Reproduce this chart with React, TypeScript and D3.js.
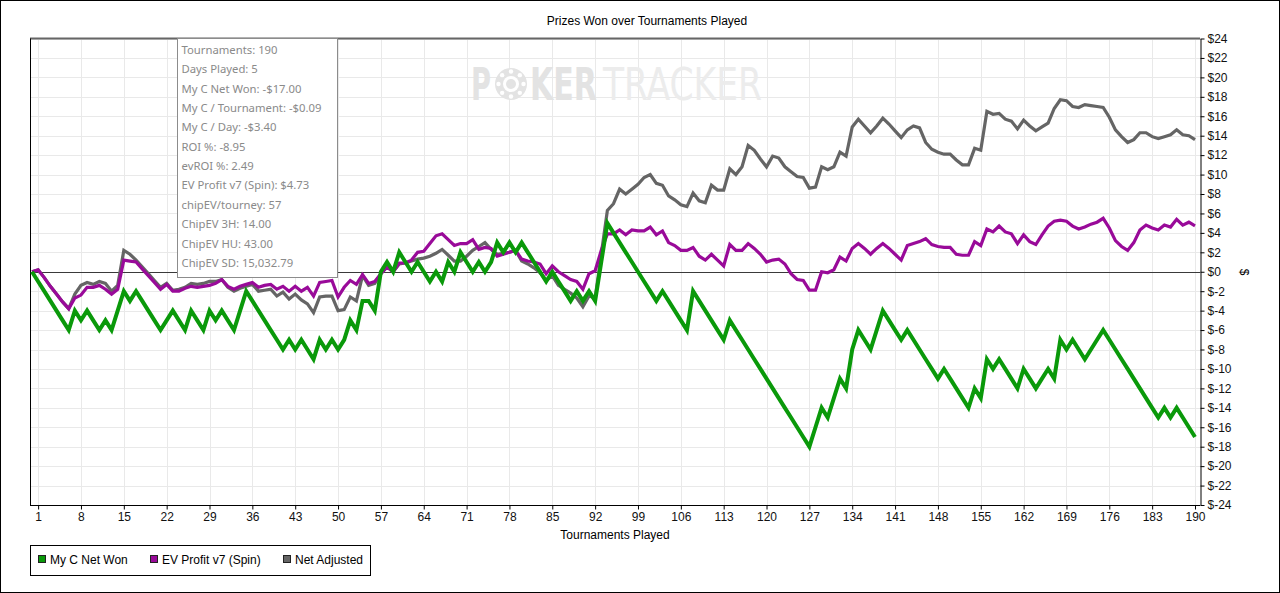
import { useEffect, useRef } from 'react';
import * as d3 from 'd3';

// cumulative $ per tournament (index = tournaments played, 0..190)
const netWon = [
  0, -1, -2, -3, -4, -5, -6, -4, -5, -4,
  -5, -6, -5, -6, -4, -2, -3, -2, -3, -4,
  -5, -6, -5, -4, -5, -6, -4, -5, -6, -4,
  -5, -4, -5, -6, -4, -2, -3, -4, -5, -6,
  -7, -8, -7, -8, -7, -8, -9, -7, -8, -7,
  -8, -7, -5, -6, -3, -3, -4, 0, 1, 0,
  2, 1, 0, 1, 0, -1, 0, -1, 1, 0,
  2, 1, 0, 1, 0, 1, 3, 2, 3, 2,
  3, 2, 1, 0, -1, 0, -1, -2, -3, -2,
  -3, -2, -3, 1, 5, 4, 3, 2, 1, 0,
  -1, -2, -3, -2, -3, -4, -5, -6, -2, -3,
  -4, -5, -6, -7, -5, -6, -7, -8, -9, -10,
  -11, -12, -13, -14, -15, -16, -17, -18, -16, -14,
  -15, -13, -11, -12, -8, -6, -7, -8, -6, -4,
  -5, -6, -7, -6, -7, -8, -9, -10, -11, -10,
  -11, -12, -13, -14, -12, -13, -9, -10, -9, -10,
  -11, -12, -10, -11, -12, -11, -10, -11, -7, -8,
  -7, -8, -9, -8, -7, -6, -7, -8, -9, -10,
  -11, -12, -13, -14, -15, -14, -15, -14, -15, -16,
  -17,
];

const evProfit = [
  0, 0.2, -0.6, -1.5, -2.3, -3.1, -3.8, -2.7, -2.4, -1.6,
  -1.6, -1.4, -1.8, -2.3, -1.8, 1.2, 1.1, 1.0, 0.3, -0.4,
  -1.1, -1.8, -1.3, -2.0, -2.0, -1.7, -1.5, -1.6, -1.5, -1.4,
  -1.2, -0.8, -1.5, -1.8, -1.5, -1.3, -1.1, -1.6, -1.4, -1.3,
  -1.8, -1.5, -2.0, -1.5, -2.0, -1.6, -2.5, -1.1, -1.0, -0.9,
  -2.6, -1.6, -0.9, -1.3, -0.3, -1.2, -1.0, -0.2, 0.5, 0.0,
  0.9, 0.9, 1.2, 2.0, 2.1, 2.9, 3.7, 3.9, 3.3, 2.7,
  2.9, 2.9, 3.3, 2.3, 2.5, 2.4, 1.6, 1.8, 2.0, 2.2,
  1.3, 1.1, 1.0, 0.8, -0.2, 0.6, 0.0, -0.4, -0.8, -1.0,
  -1.8, -0.2, 0.1, 2.2, 3.9, 3.9, 4.3, 3.8, 4.3, 4.2,
  4.2, 4.6, 3.8, 4.2, 3.0, 2.7, 2.2, 2.2, 2.5, 1.6,
  1.2, 1.8, 1.2, 0.6, 2.8, 2.2, 2.2, 2.9, 2.4, 1.8,
  1.0, 1.2, 1.3, 0.8, -0.2, -0.8, -0.9, -1.9, -1.9, 0.0,
  -0.1, 0.2, 1.5, 1.1, 2.4, 2.9, 2.4, 1.8, 2.4, 2.9,
  2.4, 1.8, 1.2, 2.7, 2.9, 3.1, 3.4, 2.8, 2.6, 2.5,
  2.5, 1.8, 1.7, 1.7, 3.1, 2.7, 4.4, 4.1, 4.7, 4.1,
  3.9, 2.9, 3.8, 3.1, 2.8, 3.8, 4.7, 5.2, 5.3, 5.2,
  4.7, 4.4, 4.6, 4.9, 5.1, 5.5, 4.5, 3.2, 2.6, 2.2,
  3.0, 4.3, 4.8, 4.5, 4.3, 4.8, 4.6, 5.4, 4.8, 5.1,
  4.73,
];

const netAdjusted = [
  0, 0.2, -0.6, -1.5, -2.3, -3.1, -3.8, -2.3, -1.4, -1.1,
  -1.3, -1.0, -1.2, -2.0, -1.4, 2.2, 1.8, 1.2, 0.5, -0.2,
  -0.9, -1.6, -1.2, -1.9, -1.8, -1.6, -1.2, -1.3, -1.2, -1.0,
  -1.0, -0.8, -1.6, -2.0, -1.7, -1.5, -1.3, -2.0, -1.9, -1.8,
  -2.5, -2.1, -2.8, -2.3, -2.9, -3.3, -4.2, -2.6, -2.5, -2.5,
  -4.0, -3.9, -2.6, -3.0, -0.4, -1.4, -1.2, -0.2, 0.5, 0.0,
  0.8, 0.9, 1.1, 1.3, 1.4, 1.6, 1.9, 2.3, 1.7, 1.1,
  1.1, 1.6, 2.2, 2.6, 3.0, 2.3, 1.8, 1.9, 2.0, 2.2,
  1.1, 0.8, 0.4, -0.1, -0.9, -0.4, -1.4, -1.8, -2.2, -2.7,
  -3.6, -2.5, -2.7, 1.8, 6.3, 7.0, 8.5, 8.0, 8.5, 9.0,
  9.7, 10.0, 9.1, 8.9, 7.8, 7.4, 6.9, 6.7, 8.1, 7.3,
  7.1, 8.9, 8.4, 8.4, 10.6, 10.0, 10.8, 13.0, 12.5, 11.6,
  10.8, 11.9, 11.7, 10.8, 10.3, 9.8, 9.7, 8.6, 8.7, 10.8,
  10.5, 10.8, 12.3, 11.9, 14.9, 15.7, 15.0, 14.3, 15.0, 15.8,
  15.2, 14.5, 13.8, 14.6, 15.0, 14.8, 13.3, 12.6, 12.3, 12.1,
  12.1, 11.5, 11.0, 11.0, 12.7, 12.5, 16.5, 16.2, 16.3, 15.7,
  15.5, 14.7, 15.6, 15.0, 14.5, 14.9, 15.3, 16.8, 17.7, 17.6,
  17.0, 16.9, 17.2, 17.1, 17.0, 16.9, 15.9, 14.6, 13.9, 13.3,
  13.6, 14.3, 14.3, 13.9, 13.7, 13.9, 14.1, 14.6, 14.1, 14.0,
  13.6,
];

const xTicks = [1, 8, 15, 22, 29, 36, 43, 50, 57, 64, 71, 78, 85, 92, 99, 106, 113, 120, 127, 134, 141, 148, 155, 162, 169, 176, 183, 190];
const yTicks = [-24, -22, -20, -18, -16, -14, -12, -10, -8, -6, -4, -2, 0, 2, 4, 6, 8, 10, 12, 14, 16, 18, 20, 22, 24];

const seriesNames = ['My C Net Won', 'EV Profit v7 (Spin)', 'Net Adjusted'];
const seriesColors = ['#0a990a', '#990a99', '#656565'];

const tooltipLines = [
  'Tournaments: 190',
  'Days Played: 5',
  'My C Net Won: -$17.00',
  'My C / Tournament: -$0.09',
  'My C / Day: -$3.40',
  'ROI %: -8.95',
  'evROI %: 2.49',
  'EV Profit v7 (Spin): $4.73',
  'chipEV/tourney: 57',
  'ChipEV 3H: 14.00',
  'ChipEV HU: 43.00',
  'ChipEV SD: 15,032.79',
];

const W = 1280;
const H = 593;
const FONT = '"Liberation Sans", Arial, sans-serif';

export default function App() {
  const svgRef = useRef<SVGSVGElement>(null);

  useEffect(() => {
    document.body.style.margin = '0';
    if (!svgRef.current) return;
    const svg = d3.select(svgRef.current);
    svg.selectAll('*').remove();

    const left = 30, right = 1200, top = 38.5, bottom = 505;

    const x = d3.scaleLinear().domain([0, 190]).range([32, 1195]);
    const y = d3.scaleLinear().domain([-24, 24]).range([bottom, top]);

    svg.append('rect').attr('width', W).attr('height', H).attr('fill', '#fff');
    svg.append('rect')
      .attr('x', 0.5).attr('y', 0.5).attr('width', W - 1).attr('height', H - 1)
      .attr('fill', 'none').attr('stroke', '#000');

    // title
    svg.append('text')
      .attr('x', 647).attr('y', 25)
      .attr('text-anchor', 'middle')
      .attr('font-family', FONT).attr('font-size', 12)
      .text('Prizes Won over Tournaments Played');

    // grid
    const grid = svg.append('g');
    grid.selectAll('line.v').data(xTicks).enter().append('line')
      .attr('x1', d => Math.round(x(d)) + 0.5).attr('x2', d => Math.round(x(d)) + 0.5)
      .attr('y1', top).attr('y2', bottom)
      .attr('stroke', '#e9e9e9');
    grid.selectAll('line.h').data(yTicks).enter().append('line')
      .attr('y1', d => Math.round(y(d)) + 0.5).attr('y2', d => Math.round(y(d)) + 0.5)
      .attr('x1', left).attr('x2', right)
      .attr('stroke', '#e9e9e9');

    // watermark, squeezed to fit its box
    const wm = svg.append('g').attr('font-family', '"DejaVu Sans Condensed", "Liberation Sans Narrow", sans-serif');
    const fitText = (txt: string, x0: number, width: number, weight: number, fill: string) => {
      const t = wm.append('text').attr('font-size', 44).attr('font-weight', weight).attr('fill', fill).text(txt);
      const w = (t.node() as SVGTextElement).getComputedTextLength() || width;
      t.attr('transform', `translate(${x0},100) scale(${width / w},1)`);
    };
    fitText('P', 471, 20, 700, '#e3e3e3');
    const chip = wm.append('g').attr('transform', 'translate(511,84)');
    chip.append('circle').attr('r', 16).attr('fill', '#e3e3e3');
    chip.append('circle').attr('r', 8).attr('fill', '#fff');
    chip.append('circle').attr('r', 5).attr('fill', '#e3e3e3');
    d3.range(8).forEach(i => {
      const a = (i * Math.PI) / 4;
      chip.append('circle').attr('cx', Math.cos(a) * 12.5).attr('cy', Math.sin(a) * 12.5)
        .attr('r', 2.2).attr('fill', '#fff');
    });
    fitText('KER', 530, 67, 700, '#e3e3e3');
    fitText('TRACKER', 603, 159, 300, '#ececec');

    // zero line
    svg.append('line')
      .attr('x1', left).attr('x2', right)
      .attr('y1', Math.round(y(0)) + 0.5).attr('y2', Math.round(y(0)) + 0.5)
      .attr('stroke', '#3a3a3a').attr('stroke-width', 1.2);

    // frame
    svg.append('line').attr('x1', left).attr('x2', right).attr('y1', top).attr('y2', top)
      .attr('stroke', '#666').attr('stroke-width', 2);
    svg.append('line').attr('x1', left + 0.5).attr('x2', left + 0.5).attr('y1', top).attr('y2', bottom)
      .attr('stroke', '#000');

    // series, drawn back to front
    const line = d3.line<number>().x((_, i) => x(i)).y(d => y(d));
    const series = [netAdjusted, evProfit, netWon];
    const colors = [seriesColors[2], seriesColors[1], seriesColors[0]];
    const widths = [3.2, 3.2, 4];
    series.forEach((s, k) => {
      svg.append('path')
        .datum(s)
        .attr('d', line)
        .attr('fill', 'none')
        .attr('stroke', colors[k])
        .attr('stroke-width', widths[k])
        .attr('stroke-linejoin', 'miter')
        .attr('stroke-miterlimit', 3);
    });

    // right axis
    svg.append('g')
      .attr('transform', `translate(${right + 0.5},0)`)
      .call(d3.axisRight(y).tickValues(yTicks).tickSize(4).tickSizeOuter(0).tickPadding(3).tickFormat(d => `$${d}`))
      .call(g => g.select('.domain').attr('stroke', '#000'))
      .call(g => g.selectAll('.tick text').attr('font-family', FONT).attr('font-size', 12).attr('fill', '#111'));

    // bottom axis
    svg.append('g')
      .attr('transform', `translate(0,${bottom + 0.5})`)
      .call(d3.axisBottom(x).tickValues(xTicks).tickSize(4).tickSizeOuter(0).tickPadding(3))
      .call(g => g.select('.domain').attr('stroke', '#000').attr('d', `M${left},0H${right}`))
      .call(g => g.selectAll('.tick text').attr('font-family', FONT).attr('font-size', 12).attr('fill', '#111'));

    svg.append('text')
      .attr('x', 615).attr('y', 539)
      .attr('text-anchor', 'middle')
      .attr('font-family', FONT).attr('font-size', 12)
      .text('Tournaments Played');

    svg.append('text')
      .attr('transform', `translate(1240,272) rotate(90)`)
      .attr('text-anchor', 'middle')
      .attr('font-family', FONT).attr('font-size', 12)
      .text('$');

    // tooltip box
    const tip = svg.append('g');
    tip.append('rect')
      .attr('x', 177.5).attr('y', 38.5).attr('width', 160).attr('height', 239)
      .attr('fill', '#fff').attr('stroke', '#8c8c8c');
    tip.selectAll('text').data(tooltipLines).enter().append('text')
      .attr('x', 181.5)
      .attr('y', (_, i) => 54 + i * 19.35)
      .attr('font-family', '"Noto Sans", "Open Sans", sans-serif')
      .attr('font-size', 11.3)
      .attr('fill', '#8a8a8a')
      .text(d => d);

    // legend
    const legend = svg.append('g');
    legend.append('rect')
      .attr('x', 30.5).attr('y', 545.5).attr('width', 340).attr('height', 30)
      .attr('fill', '#fff').attr('stroke', '#000');
    const legendX = [38, 150, 283];
    seriesNames.forEach((name, i) => {
      legend.append('rect')
        .attr('x', legendX[i] + 0.5).attr('y', 555.5).attr('width', 7).attr('height', 7)
        .attr('fill', seriesColors[i]).attr('stroke', '#222');
      legend.append('text')
        .attr('x', legendX[i] + 12).attr('y', 563.5)
        .attr('font-family', FONT).attr('font-size', 12)
        .text(name);
    });
  }, []);

  return <svg ref={svgRef} width={W} height={H} style={{ display: 'block' }} />;
}
